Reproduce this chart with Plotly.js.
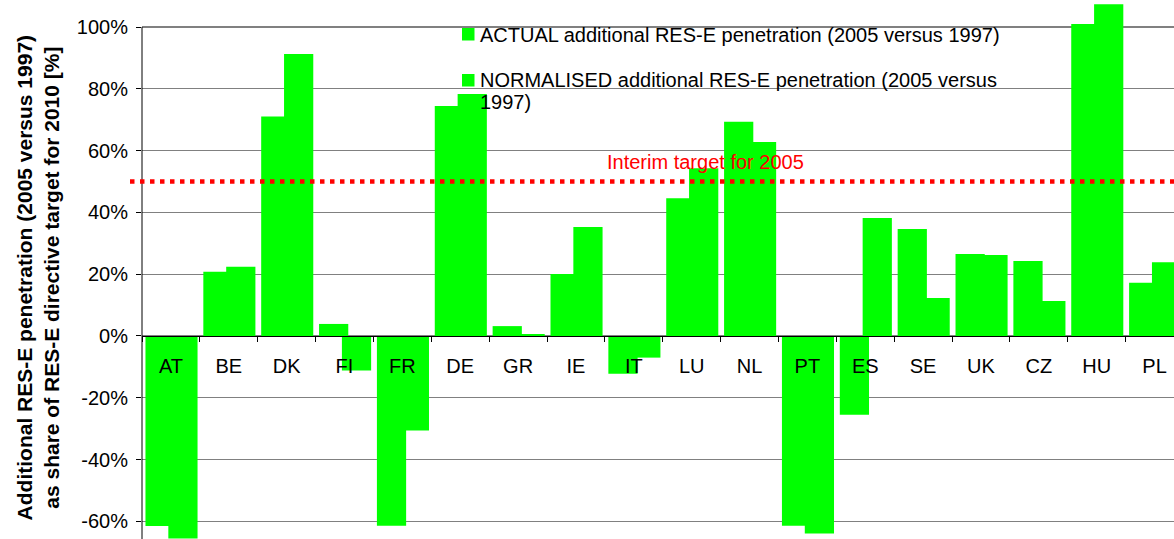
<!DOCTYPE html>
<html>
<head>
<meta charset="utf-8">
<script src="https://cdn.plot.ly/plotly-3.0.1.min.js"></script>
<style>html,body{margin:0;padding:0;background:#fff;}#chart{width:1174px;height:539px;}</style>
</head>
<body>
<div id="chart"></div>
<script>
const countries = ["AT","BE","DK","FI","FR","DE","GR","IE","IT","LU","NL","PT","ES","SE","UK","CZ","HU","PL"];
const actual = [-0.615,0.208,0.710,0.039,-0.614,0.744,0.032,0.201,-0.122,0.446,0.693,-0.614,-0.255,0.346,0.265,0.243,1.010,0.172];
const normalised = [-0.655,0.224,0.913,-0.112,-0.306,0.783,0.0065,0.353,-0.070,0.543,0.628,-0.639,0.382,0.123,0.262,0.113,1.074,0.239];
const seriesNames = ["ACTUAL additional RES-E penetration (2005 versus 1997)",
                     "NORMALISED additional RES-E penetration (2005 versus 1997)"];
const yTickVals = [-0.6,-0.4,-0.2,0,0.2,0.4,0.6,0.8,1.0];
const yTickText = ["-60%","-40%","-20%","0%","20%","40%","60%","80%","100%"];
const interimTarget = 0.5;

const FONT = "Arial, 'Liberation Sans', sans-serif";
const GREEN = "#00FF00";

const traces = [
  {type:"bar", x:countries, y:actual, name:seriesNames[0], marker:{color:GREEN, line:{width:0}},
   offset:-0.44, width:0.505, showlegend:false, hoverinfo:"skip"},
  {type:"bar", x:countries, y:normalised, name:seriesNames[1], marker:{color:GREEN, line:{width:0}},
   offset:-0.045, width:0.505, showlegend:false, hoverinfo:"skip"}
];

const W = 1174, H = 539, L = 142;
const px = (p) => (p - L) / (W - L);
const py = (p) => 1 - p / H;

const layout = {
  width: W, height: H,
  margin: {l: L, r: 0, t: 0, b: 0, pad: 0},
  paper_bgcolor: "#fff", plot_bgcolor: "#fff",
  barmode: "overlay",
  font: {family: FONT, size: 20, color: "#000"},
  showlegend: false,
  xaxis: {
    type: "category", range: [-0.5, 17.336],
    anchor: "free", position: py(336), side: "bottom",
    showline: true, linecolor: "#000", linewidth: 1,
    ticks: "outside", tickson: "boundaries", ticklen: 5, tickcolor: "#000", tickwidth: 1,
    showgrid: false, zeroline: false,
    tickfont: {family: FONT, size: 20, color: "#000"},
    ticklabelstandoff: 12
  },
  yaxis: {
    range: [-0.657, 1.0874],
    tickvals: yTickVals, ticktext: yTickText,
    ticks: "outside", ticklen: 5, tickcolor: "#000", tickwidth: 1,
    showgrid: true, gridcolor: "#808080", gridwidth: 1,
    zeroline: false, showline: false,
    tickfont: {family: FONT, size: 20, color: "#000"},
    ticklabelstandoff: 4
  },
  shapes: [
    {type:"line", xref:"paper", yref:"y", x0:0, x1:1, y0:1, y1:1, line:{color:"#000", width:1}, layer:"below"},
    {type:"line", xref:"paper", yref:"paper", x0:0, x1:0, y0:0, y1:py(27), line:{color:"#000", width:1}},
    {type:"line", xref:"paper", yref:"y", x0:px(130), x1:1, y0:interimTarget, y1:interimTarget,
     line:{color:"#FF0000", width:4.5, dash:"4.5px,5.5px"}},
    {type:"rect", xref:"paper", yref:"paper", x0:px(462), x1:px(474.5), y0:py(28), y1:py(40.5),
     fillcolor:GREEN, line:{width:0}},
    {type:"rect", xref:"paper", yref:"paper", x0:px(462), x1:px(474.5), y0:py(74), y1:py(86.5),
     fillcolor:GREEN, line:{width:0}}
  ],
  annotations: [
    {xref:"paper", yref:"paper", x:px(38), y:py(278.4), textangle:-90, showarrow:false,
     text:"<b>Additional RES-E penetration (2005 versus 1997)<br>as share of RES-E directive target for 2010 [%]</b>",
     font:{family:FONT, size:21, color:"#000"}, xanchor:"center", yanchor:"middle"},
    {xref:"paper", yref:"paper", x:px(478), y:py(34.5), showarrow:false, xanchor:"left", yanchor:"middle",
     text:seriesNames[0], font:{family:FONT, size:20, color:"#000"}},
    {xref:"paper", yref:"paper", x:px(478), y:py(80), showarrow:false, xanchor:"left", yanchor:"middle",
     text:"NORMALISED additional RES-E penetration (2005 versus", font:{family:FONT, size:20, color:"#000"}},
    {xref:"paper", yref:"paper", x:px(478), y:py(102), showarrow:false, xanchor:"left", yanchor:"middle",
     text:"1997)", font:{family:FONT, size:20, color:"#000"}},
    {xref:"paper", yref:"paper", x:px(705), y:py(162), showarrow:false, xanchor:"center", yanchor:"middle",
     text:"Interim target for 2005", font:{family:FONT, size:20, color:"#FF0000"}}
  ]
};

Plotly.newPlot("chart", traces, layout, {staticPlot: true, displayModeBar: false});
</script>
</body>
</html>
